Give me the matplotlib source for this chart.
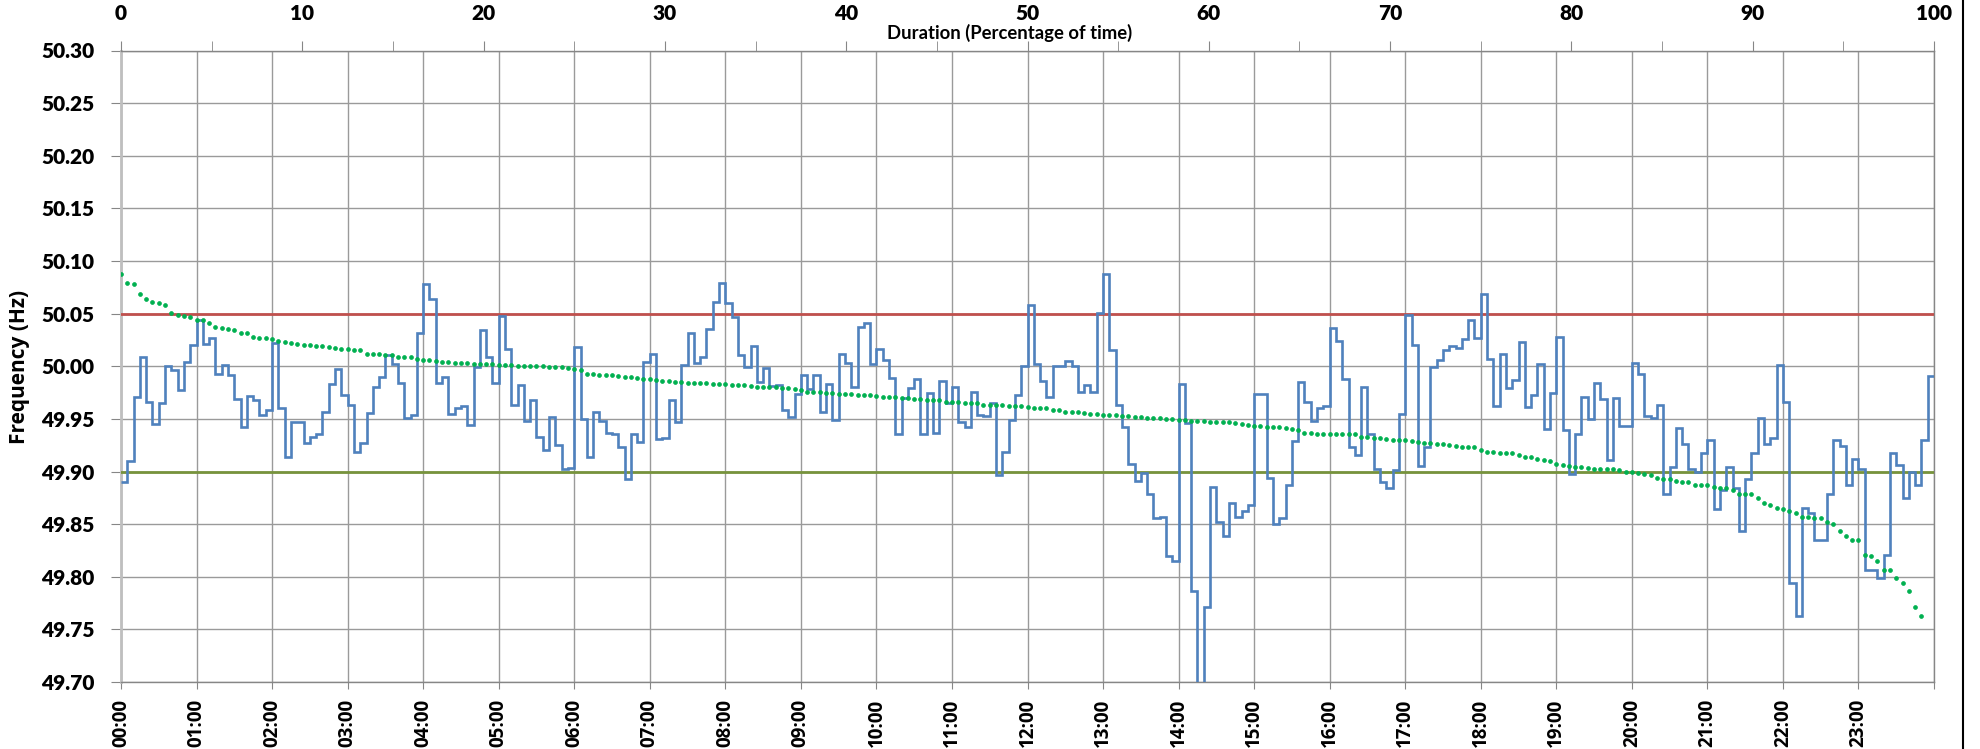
import numpy as np
import matplotlib
matplotlib.use("Agg")
import matplotlib.pyplot as plt
from matplotlib.lines import Line2D
from matplotlib.ticker import MultipleLocator, FormatStrFormatter

# ---------------- data (5-minute frequency readings, Hz) ----------------
frequency_hz = [
    # 00:00
    49.890, 49.910, 49.971, 50.009, 49.966, 49.945, 49.965, 50.000, 49.996, 49.977, 50.004, 50.020,
    # 01:00
    50.044, 50.021, 50.027, 49.993, 50.001, 49.992, 49.969, 49.942, 49.972, 49.968, 49.954, 49.958,
    # 02:00
    50.022, 49.960, 49.914, 49.947, 49.947, 49.927, 49.933, 49.936, 49.957, 49.983, 49.997, 49.973,
    # 03:00
    49.963, 49.919, 49.927, 49.956, 49.980, 49.990, 50.011, 50.002, 49.984, 49.951, 49.954, 50.032,
    # 04:00
    50.078, 50.064, 49.984, 49.990, 49.955, 49.960, 49.962, 49.944, 49.999, 50.034, 50.009, 49.984,
    # 05:00
    50.048, 50.016, 49.963, 49.982, 49.948, 49.968, 49.933, 49.920, 49.952, 49.925, 49.902, 49.903,
    # 06:00
    50.018, 49.950, 49.914, 49.957, 49.948, 49.937, 49.936, 49.923, 49.893, 49.936, 49.928, 50.004,
    # 07:00
    50.012, 49.931, 49.932, 49.968, 49.947, 50.001, 50.032, 50.003, 50.009, 50.035, 50.061, 50.079,
    # 08:00
    50.060, 50.047, 50.011, 49.999, 50.019, 49.985, 49.998, 49.981, 49.982, 49.958, 49.952, 49.974,
    # 09:00
    49.992, 49.978, 49.992, 49.957, 49.983, 49.949, 50.012, 50.003, 49.980, 50.037, 50.041, 50.002,
    # 10:00
    50.016, 50.006, 49.989, 49.936, 49.970, 49.979, 49.988, 49.936, 49.975, 49.937, 49.986, 49.965,
    # 11:00
    49.980, 49.947, 49.942, 49.976, 49.954, 49.953, 49.965, 49.897, 49.919, 49.949, 49.973, 50.000,
    # 12:00
    50.058, 50.002, 49.986, 49.971, 50.000, 50.000, 50.005, 50.000, 49.976, 49.982, 49.976, 50.051,
    # 13:00
    50.088, 50.015, 49.963, 49.942, 49.907, 49.891, 49.899, 49.879, 49.856, 49.857, 49.820, 49.815,
    # 14:00
    49.983, 49.946, 49.786, 49.690, 49.771, 49.885, 49.852, 49.839, 49.870, 49.857, 49.862, 49.868,
    # 15:00
    49.974, 49.974, 49.894, 49.850, 49.856, 49.887, 49.929, 49.985, 49.966, 49.948, 49.960, 49.962,
    # 16:00
    50.036, 50.024, 49.988, 49.923, 49.916, 49.980, 49.936, 49.902, 49.890, 49.884, 49.901, 49.955,
    # 17:00
    50.049, 50.020, 49.905, 49.923, 49.999, 50.006, 50.015, 50.019, 50.017, 50.026, 50.044, 50.027,
    # 18:00
    50.069, 50.007, 49.962, 50.012, 49.979, 49.987, 50.023, 49.961, 49.973, 50.002, 49.940, 49.975,
    # 19:00
    50.028, 49.939, 49.898, 49.936, 49.971, 49.950, 49.984, 49.969, 49.911, 49.970, 49.943, 49.943,
    # 20:00
    50.003, 49.993, 49.953, 49.951, 49.963, 49.879, 49.904, 49.941, 49.926, 49.902, 49.900, 49.918,
    # 21:00
    49.930, 49.864, 49.882, 49.904, 49.884, 49.843, 49.893, 49.918, 49.951, 49.926, 49.932, 50.001,
    # 22:00
    49.966, 49.794, 49.763, 49.865, 49.861, 49.835, 49.835, 49.879, 49.930, 49.924, 49.887, 49.912,
    # 23:00
    49.902, 49.806, 49.806, 49.799, 49.821, 49.918, 49.906, 49.875, 49.900, 49.887, 49.930, 49.991,
]
interval_minutes = 5
upper_limit_hz = 50.05
lower_limit_hz = 49.90

hour_labels = ["00:00", "01:00", "02:00", "03:00", "04:00", "05:00", "06:00", "07:00",
               "08:00", "09:00", "10:00", "11:00", "12:00", "13:00", "14:00", "15:00",
               "16:00", "17:00", "18:00", "19:00", "20:00", "21:00", "22:00", "23:00"]
y_ticks = [49.70, 49.75, 49.80, 49.85, 49.90, 49.95, 50.00, 50.05, 50.10, 50.15, 50.20, 50.25, 50.30]
pct_ticks = [0, 10, 20, 30, 40, 50, 60, 70, 80, 90, 100]

# duration curve: the same readings ordered from highest to lowest
duration_hz = np.sort(np.array(frequency_hz))[::-1]
duration_pct = np.arange(len(duration_hz)) * 100.0 / len(duration_hz)

# ---------------- figure ----------------
W, H = 1980, 749
fig = plt.figure(figsize=(W / 100, H / 100), dpi=100)
L, R, T, B = 121, 1934, 50.5, 682
ax = fig.add_axes([L / W, 1 - B / H, (R - L) / W, (B - T) / H])

grid_c = "#9a9a9a"
spine_c = "#868686"

edges = np.arange(len(frequency_hz) + 1) * interval_minutes / 60.0
ax.stairs(frequency_hz, edges, baseline=None, color="#4F81BD", lw=1.9, zorder=4)
ax.axhline(upper_limit_hz, color="#C0504D", lw=2.0, zorder=3)
ax.axhline(lower_limit_hz, color="#77933C", lw=2.0, zorder=3)

ax.set_xlim(0, 24)
ax.set_ylim(49.70, 50.30)
ax.set_xticks(range(25))
ax.set_xticklabels(hour_labels + [""], rotation=90,
                   fontfamily="Open Sans", fontweight="bold", fontsize=13.5)
ax.set_yticks(y_ticks)
ax.yaxis.set_major_formatter(FormatStrFormatter("%.2f"))
for lbl in ax.get_yticklabels():
    lbl.set_fontfamily("Lato")
    lbl.set_fontweight("heavy")
    lbl.set_fontsize(15)
ax.tick_params(axis="y", length=7, color=spine_c, pad=12)
ax.tick_params(axis="x", length=5, color=spine_c, pad=7)
ax.grid(True, color=grid_c, lw=1.0, zorder=0)
ax.set_axisbelow(True)

for side in ["top", "right", "bottom"]:
    ax.spines[side].set_color(spine_c)
    ax.spines[side].set_linewidth(1.0)
ax.spines["left"].set_color("#BFBFBF")
ax.spines["left"].set_linewidth(2.0)

# top axis: duration (percentage of time)
ax2 = ax.twiny()
ax2.set_xlim(0, 100)
ax2.plot(duration_pct, duration_hz, ls="none", marker="o", ms=2.8,
         mec="#00B050", mfc="#00B050", mew=0.5, zorder=5)
ax2.set_xticks(pct_ticks)
ax2.xaxis.set_minor_locator(MultipleLocator(5))
for lbl in ax2.get_xticklabels():
    lbl.set_fontfamily("Lato")
    lbl.set_fontweight("heavy")
    lbl.set_fontsize(15)
ax2.tick_params(axis="x", which="both", length=7, color=spine_c, pad=13)
for side in ["top", "right", "bottom", "left"]:
    ax2.spines[side].set_visible(False)

fig.text(1010 / W, 1 - 33 / H, "Duration (Percentage of time)", ha="center", va="center",
         fontfamily="Lato", fontweight="bold", fontsize=13.3)
fig.text(20 / W, 1 - 367 / H, "Frequency (Hz)", ha="center", va="center", rotation=90,
         fontfamily="Open Sans", fontweight="bold", fontsize=15)

fig.add_artist(Line2D([1963 / W, 1963 / W], [0, 1], color="black", lw=1.5,
                      transform=fig.transFigure))

fig.savefig("out.png", dpi=100)
